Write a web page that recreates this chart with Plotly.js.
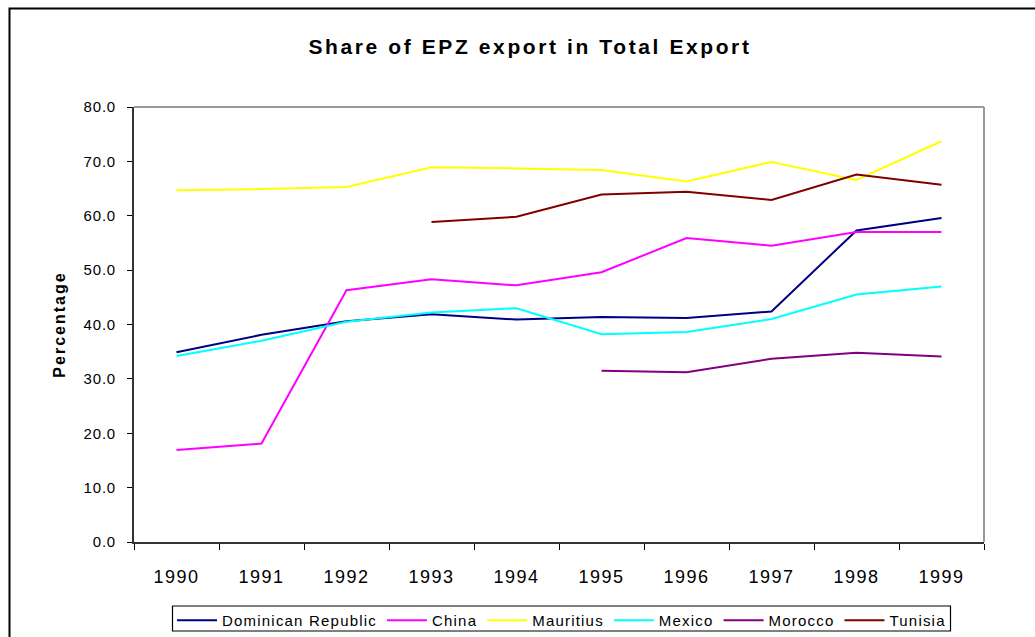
<!DOCTYPE html>
<html>
<head>
<meta charset="utf-8">
<script src="https://cdn.plot.ly/plotly-3.0.1.min.js"></script>
<style>
html,body{margin:0;padding:0;background:#fff;}
#chart{width:1035px;height:637px;}
.gtitle{letter-spacing:2.6px;}
.xtick text{letter-spacing:1.5px;}
.ytick text{letter-spacing:0.8px;}
.ytitle{letter-spacing:2px;}
.legendtext{letter-spacing:1.2px;}
</style>
</head>
<body>
<div id="chart"></div>
<script>
const years = ['1990','1991','1992','1993','1994','1995','1996','1997','1998','1999'];
const dominicanRepublic = [34.9, 38.1, 40.6, 41.9, 40.9, 41.4, 41.2, 42.4, 57.3, 59.6];
const china = [16.9, 18.1, 46.3, 48.3, 47.2, 49.6, 55.9, 54.5, 57.0, 57.0];
const mauritius = [64.7, 64.9, 65.3, 68.9, 68.7, 68.4, 66.3, 69.9, 66.6, 73.7];
const mexico = [34.2, 37.0, 40.5, 42.2, 43.0, 38.2, 38.6, 41.0, 45.5, 47.0];
const morocco = [null, null, null, null, null, 31.5, 31.2, 33.7, 34.8, 34.1];
const tunisia = [null, null, null, 58.85, 59.8, 63.9, 64.4, 62.9, 67.6, 65.7];
const yTicks = [0, 10, 20, 30, 40, 50, 60, 70, 80];

const seriesNames = ['Dominican Republic','China','Mauritius','Mexico','Morocco','Tunisia'];
const seriesValues = [dominicanRepublic, china, mauritius, mexico, morocco, tunisia];
const seriesColors = ['#000080','#FF00FF','#FFFF00','#00FFFF','#800080','#800000'];

const traces = seriesNames.map((n, i) => ({
  type: 'scatter', mode: 'lines', name: n, x: years, y: seriesValues[i],
  line: {color: seriesColors[i], width: 2}, connectgaps: false
}));

const L = 134, R = 984, T = 107, B = 542, W = 1035, H = 637;
const px = v => (v - L) / (R - L);
const py = v => (B - v) / (B - T);

const layout = {
  width: W, height: H,
  margin: {l: L, r: W - R, t: T, b: H - B, autoexpand: false},
  paper_bgcolor: '#fff', plot_bgcolor: '#fff',
  font: {family: '"Liberation Sans", Arial, sans-serif', color: '#000'},
  title: {text: 'Share of EPZ export in Total Export', font: {size: 21, color: '#000', weight: 'bold'},
          xref: 'container', x: 530 / W, xanchor: 'center', yref: 'container', y: 1 - 47 / H, yanchor: 'middle'},
  xaxis: {type: 'category', range: [-0.5, years.length - 0.5], tickson: 'boundaries', ticks: 'outside', ticklen: 6,
          tickcolor: '#000', tickwidth: 1,
          showline: true, linecolor: '#333', linewidth: 2, showgrid: false, zeroline: false,
          tickfont: {size: 18, color: '#000'}, ticklabelstandoff: 17, fixedrange: true},
  yaxis: {range: [0, 80], tickmode: 'array', tickvals: yTicks, ticktext: yTicks.map(v => v.toFixed(1)),
          ticks: 'outside', ticklen: 5, tickcolor: '#000', tickwidth: 1,
          showline: true, linecolor: '#333', linewidth: 2, showgrid: false, zeroline: false,
          tickfont: {size: 15, color: '#000'}, ticklabelstandoff: 8,
          title: {text: 'Percentage', font: {size: 16, color: '#000', weight: 'bold'}, standoff: 14}},
  showlegend: true,
  legend: {orientation: 'h', xref: 'paper', yref: 'paper', x: px(172), xanchor: 'left', y: py(604), yanchor: 'top',
           borderwidth: 0, bgcolor: 'rgba(0,0,0,0)', font: {size: 15, color: '#000'},
           itemwidth: 40, tracegroupgap: 0, itemclick: false},
  shapes: [
    {type: 'line', xref: 'paper', yref: 'paper', x0: 0, x1: 1, y0: 1, y1: 1, line: {color: '#999', width: 2}},
    {type: 'line', xref: 'paper', yref: 'paper', x0: 1, x1: 1, y0: 0, y1: 1, line: {color: '#999', width: 2}},
    {type: 'rect', xref: 'paper', yref: 'paper', x0: px(9.5), x1: px(1045), y0: py(650), y1: py(8.5),
     line: {color: '#000', width: 2}, fillcolor: 'rgba(0,0,0,0)', layer: 'below'},
    {type: 'rect', xref: 'paper', yref: 'paper', x0: px(172.5), x1: px(950.5), y0: py(631), y1: py(606),
     line: {color: '#000', width: 1.2}, fillcolor: '#fff', layer: 'below'}
  ]
};

Plotly.newPlot('chart', traces, layout, {staticPlot: true, displayModeBar: false});
</script>
</body>
</html>
